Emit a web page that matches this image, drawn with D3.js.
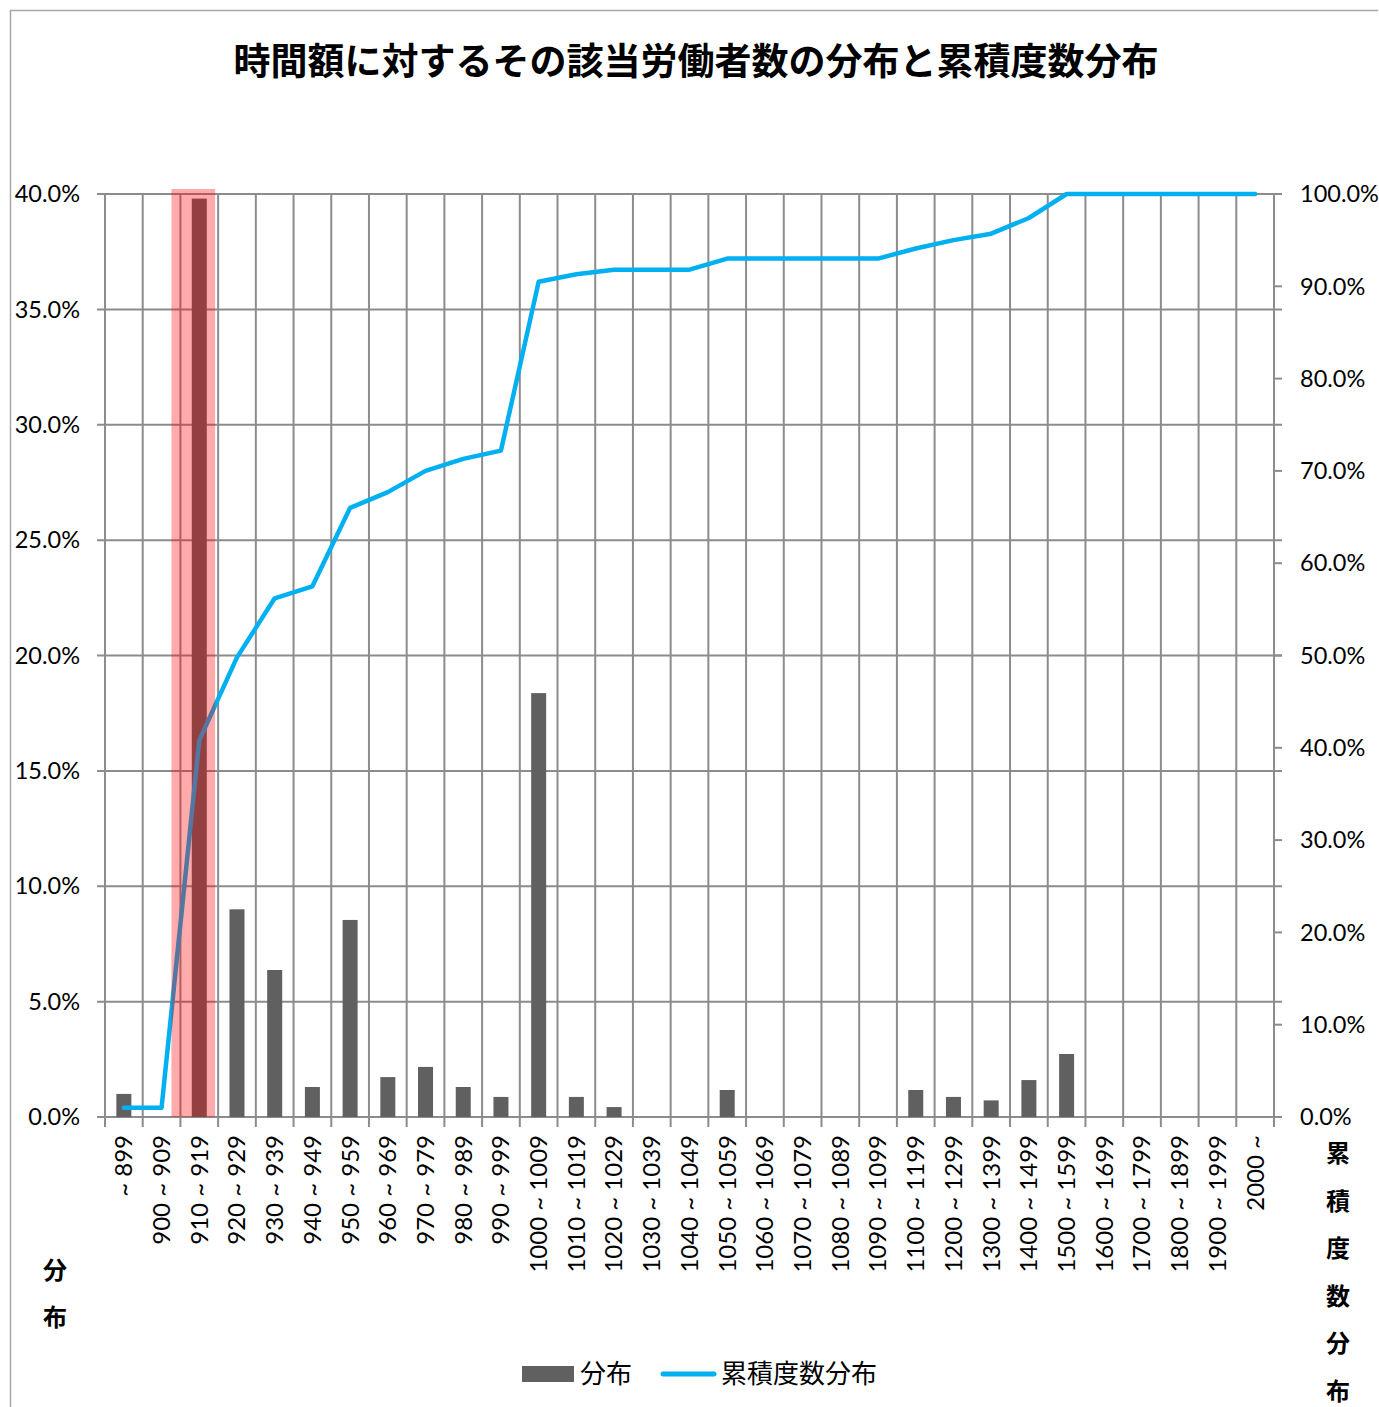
<!DOCTYPE html>
<html>
<head>
<meta charset="utf-8">
<script src="https://cdn.jsdelivr.net/npm/d3@7"></script>
<style>
  body { margin: 0; background: #fff; }
  svg text { font-family: Lato, "Noto Sans CJK JP", sans-serif; }
  .jp { font-family: "Noto Sans CJK JP", sans-serif; }
</style>
</head>
<body>
<svg width="1379" height="1407"></svg>
<script>
"use strict";

// categories (時間額の階級)
var categories = ["~ 899", "900 ~ 909", "910 ~ 919", "920 ~ 929", "930 ~ 939", "940 ~ 949",
    "950 ~ 959", "960 ~ 969", "970 ~ 979", "980 ~ 989", "990 ~ 999", "1000 ~ 1009",
    "1010 ~ 1019", "1020 ~ 1029", "1030 ~ 1039", "1040 ~ 1049", "1050 ~ 1059", "1060 ~ 1069",
    "1070 ~ 1079", "1080 ~ 1089", "1090 ~ 1099", "1100 ~ 1199", "1200 ~ 1299", "1300 ~ 1399",
    "1400 ~ 1499", "1500 ~ 1599", "1600 ~ 1699", "1700 ~ 1799", "1800 ~ 1899", "1900 ~ 1999",
    "2000 ~"];

// 分布 (%)
var distribution = [1.0, 0, 39.8, 9.0, 6.37, 1.3, 8.54, 1.73, 2.17, 1.3, 0.87, 18.37,
    0.87, 0.43, 0, 0, 1.17, 0, 0, 0, 0, 1.17, 0.87, 0.72, 1.6, 2.73, 0, 0, 0, 0, 0];

// 累積度数分布 (%)
var cumulative = [1.0, 1.0, 40.8, 49.8, 56.2, 57.5, 66.0, 67.7, 70.0, 71.3, 72.2, 90.5,
    91.3, 91.8, 91.8, 91.8, 93.0, 93.0, 93.0, 93.0, 93.0, 94.1, 95.0, 95.7, 97.4, 100, 100,
    100, 100, 100, 100];

var leftTicks = [0, 5, 10, 15, 20, 25, 30, 35, 40];
var rightTicks = [0, 10, 20, 30, 40, 50, 60, 70, 80, 90, 100];
var highlightIndex = 2;

var svg = d3.select("svg");
var margin = {left: 105, top: 194};
var W = 1379, H = 1407;
var plotW = 1274 - margin.left, plotH = 1117 - margin.top;

// outer frame
svg.append("path")
    .attr("d", "M10.5," + H + "V10.5H" + (W - 1))
    .attr("fill", "none")
    .attr("stroke", "#a6a6a6")
    .attr("stroke-width", 1.5);

svg.append("text")
    .attr("class", "jp")
    .attr("x", 696).attr("y", 75)
    .attr("text-anchor", "middle")
    .attr("font-size", 37).attr("font-weight", "bold")
    .text("時間額に対するその該当労働者数の分布と累積度数分布");

var g = svg.append("g").attr("transform", "translate(" + margin.left + "," + margin.top + ")");

var x = d3.scaleBand().domain(categories).range([0, plotW]).padding(0);
var y = d3.scaleLinear().domain([0, 40]).range([plotH, 0]);
var y2 = d3.scaleLinear().domain([0, 100]).range([plotH, 0]);

var gridColor = "#8c8c8c";

// horizontal grid (left axis)
g.append("g").selectAll("line")
    .data(leftTicks).enter().append("line")
    .attr("x1", -8).attr("x2", plotW + 8)
    .attr("y1", function(d) { return y(d); })
    .attr("y2", function(d) { return y(d); })
    .attr("stroke", gridColor).attr("stroke-width", 2);

// vertical grid at category boundaries
var bounds = categories.map(function(c) { return x(c); }).concat([plotW]);
g.append("g").selectAll("line")
    .data(bounds).enter().append("line")
    .attr("x1", function(d) { return d; })
    .attr("x2", function(d) { return d; })
    .attr("y1", 0).attr("y2", plotH + 10)
    .attr("stroke", gridColor).attr("stroke-width", 2);

// right axis ticks
g.append("g").selectAll("line")
    .data(rightTicks).enter().append("line")
    .attr("x1", plotW).attr("x2", plotW + 8)
    .attr("y1", function(d) { return y2(d); })
    .attr("y2", function(d) { return y2(d); })
    .attr("stroke", gridColor).attr("stroke-width", 2);

// tick labels
g.append("g").selectAll("text")
    .data(leftTicks).enter().append("text")
    .attr("x", -25).attr("y", function(d) { return y(d); })
    .attr("dy", "0.35em")
    .attr("text-anchor", "end")
    .attr("font-size", 23.5)
    .text(function(d) { return d.toFixed(1) + "%"; });

g.append("g").selectAll("text")
    .data(rightTicks).enter().append("text")
    .attr("x", plotW + 26).attr("y", function(d) { return y2(d); })
    .attr("dy", "0.35em")
    .attr("font-size", 23.5)
    .text(function(d) { return d.toFixed(1) + "%"; });

// category labels, rotated
g.append("g").selectAll("text")
    .data(categories).enter().append("text")
    .attr("transform", function(d) {
        return "translate(" + (x(d) + x.bandwidth() / 2) + "," + (plotH + 18) + ") rotate(-90)";
    })
    .attr("dy", "0.35em")
    .attr("text-anchor", "end")
    .attr("font-size", 24)
    .text(function(d) { return d; });

// bars
var barW = 15;
g.append("g").selectAll("rect")
    .data(distribution).enter().append("rect")
    .attr("x", function(d, i) { return x(categories[i]) + x.bandwidth() / 2 - barW / 2; })
    .attr("y", function(d) { return y(d); })
    .attr("width", barW)
    .attr("height", function(d) { return plotH - y(d); })
    .attr("fill", "#606060");

// cumulative line
var line = d3.line()
    .x(function(d, i) { return x(categories[i]) + x.bandwidth() / 2; })
    .y(function(d) { return y2(d); });

g.append("path")
    .datum(cumulative)
    .attr("d", line)
    .attr("fill", "none")
    .attr("stroke", "#00b0f0")
    .attr("stroke-width", 4.5)
    .attr("stroke-linecap", "round")
    .attr("stroke-linejoin", "round");

// highlight box
var hc = categories[highlightIndex];
g.append("rect")
    .attr("x", x(hc) - 9)
    .attr("y", -5)
    .attr("width", x.bandwidth() + 6)
    .attr("height", plotH + 5)
    .attr("fill", "rgba(255,0,0,0.33)");

// axis titles
svg.append("g").selectAll("text")
    .data(["分", "布"]).enter().append("text")
    .attr("class", "jp")
    .attr("x", 55).attr("y", function(d, i) { return 1279 + i * 47; })
    .attr("text-anchor", "middle")
    .attr("font-size", 24).attr("font-weight", "bold")
    .text(function(d) { return d; });

svg.append("g").selectAll("text")
    .data(["累", "積", "度", "数", "分", "布"]).enter().append("text")
    .attr("class", "jp")
    .attr("x", 1338).attr("y", function(d, i) { return 1162 + i * 47.5; })
    .attr("text-anchor", "middle")
    .attr("font-size", 24).attr("font-weight", "bold")
    .text(function(d) { return d; });

// legend
var legend = svg.append("g");
legend.append("rect")
    .attr("x", 522).attr("y", 1366).attr("width", 52).attr("height", 16)
    .attr("fill", "#606060");
legend.append("text")
    .attr("class", "jp")
    .attr("x", 580).attr("y", 1383)
    .attr("font-size", 26)
    .text("分布");
legend.append("line")
    .attr("x1", 663).attr("x2", 714).attr("y1", 1374).attr("y2", 1374)
    .attr("stroke", "#00b0f0").attr("stroke-width", 5).attr("stroke-linecap", "round");
legend.append("text")
    .attr("class", "jp")
    .attr("x", 721).attr("y", 1383)
    .attr("font-size", 26)
    .text("累積度数分布");
</script>
</body>
</html>
